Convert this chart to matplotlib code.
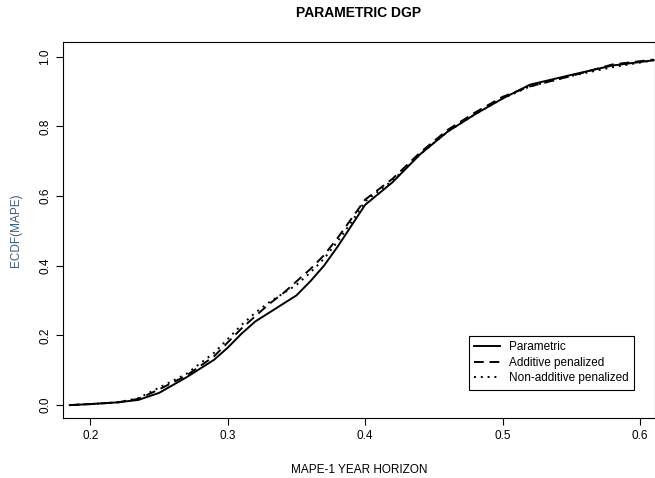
import numpy as np
import matplotlib.pyplot as plt

plt.rcParams['font.family'] = ['Liberation Sans', 'DejaVu Sans']

# ECDF curves (MAPE, ECDF)
x_par = [0.185, 0.20, 0.22, 0.235, 0.25, 0.27, 0.29, 0.30, 0.31, 0.32, 0.33, 0.34, 0.35, 0.36,
         0.37, 0.38, 0.39, 0.40, 0.42, 0.44, 0.46, 0.48, 0.50, 0.52, 0.55, 0.58, 0.61]
y_par = [0.0, 0.003, 0.008, 0.015, 0.035, 0.08, 0.13, 0.165, 0.205, 0.24, 0.265, 0.29, 0.315, 0.355,
         0.40, 0.455, 0.515, 0.575, 0.64, 0.72, 0.785, 0.835, 0.88, 0.92, 0.948, 0.975, 0.99]
x_add = [0.185, 0.20, 0.22, 0.235, 0.25, 0.27, 0.29, 0.30, 0.31, 0.32, 0.33, 0.34, 0.35, 0.36,
         0.37, 0.38, 0.39, 0.40, 0.42, 0.44, 0.46, 0.48, 0.50, 0.52, 0.55, 0.58, 0.61]
y_add = [0.0, 0.003, 0.008, 0.018, 0.045, 0.085, 0.14, 0.18, 0.22, 0.255, 0.29, 0.32, 0.355, 0.39,
         0.43, 0.48, 0.535, 0.59, 0.65, 0.725, 0.79, 0.84, 0.885, 0.915, 0.945, 0.978, 0.992]
x_non = [0.185, 0.20, 0.22, 0.235, 0.25, 0.27, 0.29, 0.30, 0.31, 0.32, 0.33, 0.34, 0.35, 0.36,
         0.37, 0.38, 0.39, 0.40, 0.42, 0.44, 0.46, 0.48, 0.50, 0.52, 0.55, 0.58, 0.61]
y_non = [0.0, 0.003, 0.008, 0.02, 0.05, 0.09, 0.15, 0.19, 0.23, 0.265, 0.295, 0.32, 0.345, 0.38,
         0.42, 0.47, 0.525, 0.585, 0.645, 0.72, 0.785, 0.835, 0.88, 0.915, 0.945, 0.97, 0.99]

fig = plt.figure(figsize=(6.55, 4.78), dpi=100)
ax = fig.add_axes([0.096, 0.1255, 0.904, 0.787])

ax.plot(x_par, y_par, color='black', lw=1.4, ls='-', label='Parametric')
ax.plot(x_add, y_add, color='black', lw=1.4, ls=(0, (5, 3)), label='Additive penalized')
ax.plot(x_non, y_non, color='black', lw=1.4, ls=(0, (1, 2.5)), label='Non-additive penalized')

ax.set_xlim(0.180, 0.611)
ax.set_ylim(-0.037, 1.043)
ax.set_xticks([0.2, 0.3, 0.4, 0.5, 0.6])
ax.set_xticklabels(['0.2', '0.3', '0.4', '0.5', '0.6'])
ax.set_yticks([0.0, 0.2, 0.4, 0.6, 0.8, 1.0])
ax.set_yticklabels(['0.0', '0.2', '0.4', '0.6', '0.8', '1.0'], rotation=90, va='center')
ax.tick_params(labelsize=8.5, length=5)

ax.set_title('PARAMETRIC DGP', fontsize=10, fontweight='bold', pad=18)
ax.set_xlabel('MAPE-1 YEAR HORIZON', fontsize=8.5, labelpad=16)
ax.set_ylabel('ECDF(MAPE)', fontsize=8.5, color='#3d5a80', labelpad=12)

leg = ax.legend(loc='lower right', bbox_to_anchor=(0.975, 0.06), fontsize=8.5,
                fancybox=False, edgecolor='black', framealpha=1, handlelength=2.2,
                borderpad=0.45, labelspacing=0.3)
leg.get_frame().set_linewidth(0.8)

fig.savefig('out.png', dpi=100)
